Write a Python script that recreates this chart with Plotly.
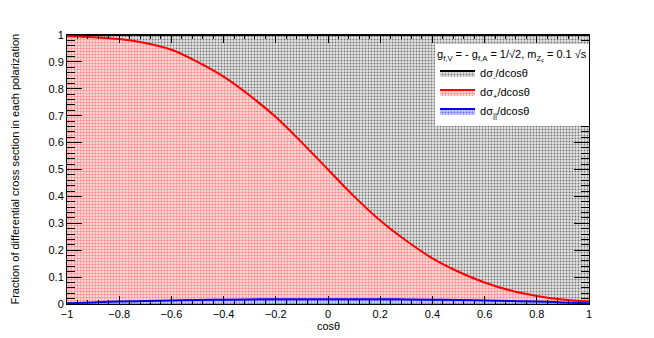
import plotly.graph_objects as go

cos_theta = [-1.0, -0.9, -0.8, -0.7, -0.6, -0.5, -0.4, -0.3, -0.2, -0.1, 0.0,
             0.1, 0.2, 0.3, 0.4, 0.5, 0.6, 0.7, 0.8, 0.9, 1.0]
frac_minus = [1.0] * 21
frac_plus = [0.995, 0.992, 0.985, 0.970, 0.945, 0.900, 0.845, 0.775, 0.695, 0.600, 0.500,
             0.400, 0.310, 0.235, 0.170, 0.120, 0.080, 0.050, 0.030, 0.017, 0.010]
frac_long = [0.003, 0.006, 0.009, 0.011, 0.013, 0.015, 0.016, 0.017, 0.018, 0.018, 0.018,
             0.018, 0.018, 0.017, 0.016, 0.015, 0.013, 0.011, 0.009, 0.006, 0.003]

x_ticks = [-1, -0.8, -0.6, -0.4, -0.2, 0, 0.2, 0.4, 0.6, 0.8, 1]
x_ticklabels = ["\u22121", "\u22120.8", "\u22120.6", "\u22120.4", "\u22120.2", "0", "0.2", "0.4", "0.6", "0.8", "1"]
y_ticks = [0, 0.1, 0.2, 0.3, 0.4, 0.5, 0.6, 0.7, 0.8, 0.9, 1]
y_ticklabels = ["0", "0.1", "0.2", "0.3", "0.4", "0.5", "0.6", "0.7", "0.8", "0.9", "1"]

FONT = "Liberation Sans, Arial, sans-serif"

fig = go.Figure()
fig.add_trace(go.Scatter(
    x=cos_theta, y=frac_minus, mode="lines", fill="tozeroy",
    line=dict(color="black", width=2),
    fillcolor="white",
    fillpattern=dict(shape=".", fgcolor="black", bgcolor="#e4e4e4", size=3, solidity=0.3),
    name="d\u03c3<sub>-</sub>/dcos\u03b8"))
fig.add_trace(go.Scatter(
    x=cos_theta, y=frac_plus, mode="lines", fill="tozeroy", line_shape="spline",
    line=dict(color="red", width=2),
    fillcolor="white",
    fillpattern=dict(shape="+", fgcolor="#ff3030", bgcolor="#ffd6d6", size=3, solidity=0.35),
    name="d\u03c3<sub>+</sub>/dcos\u03b8"))
fig.add_trace(go.Scatter(
    x=cos_theta, y=frac_long, mode="lines", fill="tozeroy", line_shape="spline",
    line=dict(color="blue", width=2),
    fillcolor="white",
    fillpattern=dict(shape=".", fgcolor="blue", bgcolor="#d0d0ff", size=3, solidity=0.4),
    name="d\u03c3<sub>||</sub>/dcos\u03b8"))

axis_common = dict(showline=True, linecolor="black", linewidth=1, mirror="ticks",
                   ticks="inside", tickcolor="black", showgrid=False, zeroline=False,
                   tickfont=dict(family=FONT, size=11, color="black"))

fig.update_xaxes(range=[-1, 1], tickvals=x_ticks, ticktext=x_ticklabels, ticklen=8,
                 minor=dict(ticks="inside", ticklen=4, dtick=0.04, tickcolor="black", showgrid=False),
                 **axis_common)
fig.update_yaxes(range=[0, 1], tickvals=y_ticks, ticktext=y_ticklabels, ticklen=15,
                 minor=dict(ticks="inside", ticklen=8, dtick=0.02, tickcolor="black", showgrid=False),
                 **axis_common)

fig.add_annotation(text="Fraction of differential cross section in each polarization",
                   xref="paper", yref="paper", x=-0.1015, y=0.5, textangle=-90,
                   showarrow=False, xanchor="center", yanchor="middle",
                   font=dict(family=FONT, size=11, color="black"))
fig.add_annotation(text="cos\u03b8", xref="paper", yref="paper", x=0.5, y=-0.08,
                   showarrow=False, xanchor="center", yanchor="middle",
                   font=dict(family=FONT, size=11, color="black"))

# page body has an 8px margin, so the figure is offset accordingly
fig.update_layout(
    width=654, height=338,
    margin=dict(l=59, r=73, t=27, b=42),
    paper_bgcolor="white", plot_bgcolor="white",
    showlegend=True,
    legend=dict(
        x=0.705, y=0.966, xanchor="left", yanchor="top",
        bgcolor="white", borderwidth=0,
        font=dict(family=FONT, size=11, color="black"),
        title=dict(text="g<sub>f,V</sub> = - g<sub>f,A</sub> = 1/\u221a2, m<sub>Z<sub>c</sub></sub> = 0.1 \u221as",
                   font=dict(family=FONT, size=11, color="black")),
        itemwidth=35, tracegroupgap=0,
    ),
)

fig.write_html("out.html")
